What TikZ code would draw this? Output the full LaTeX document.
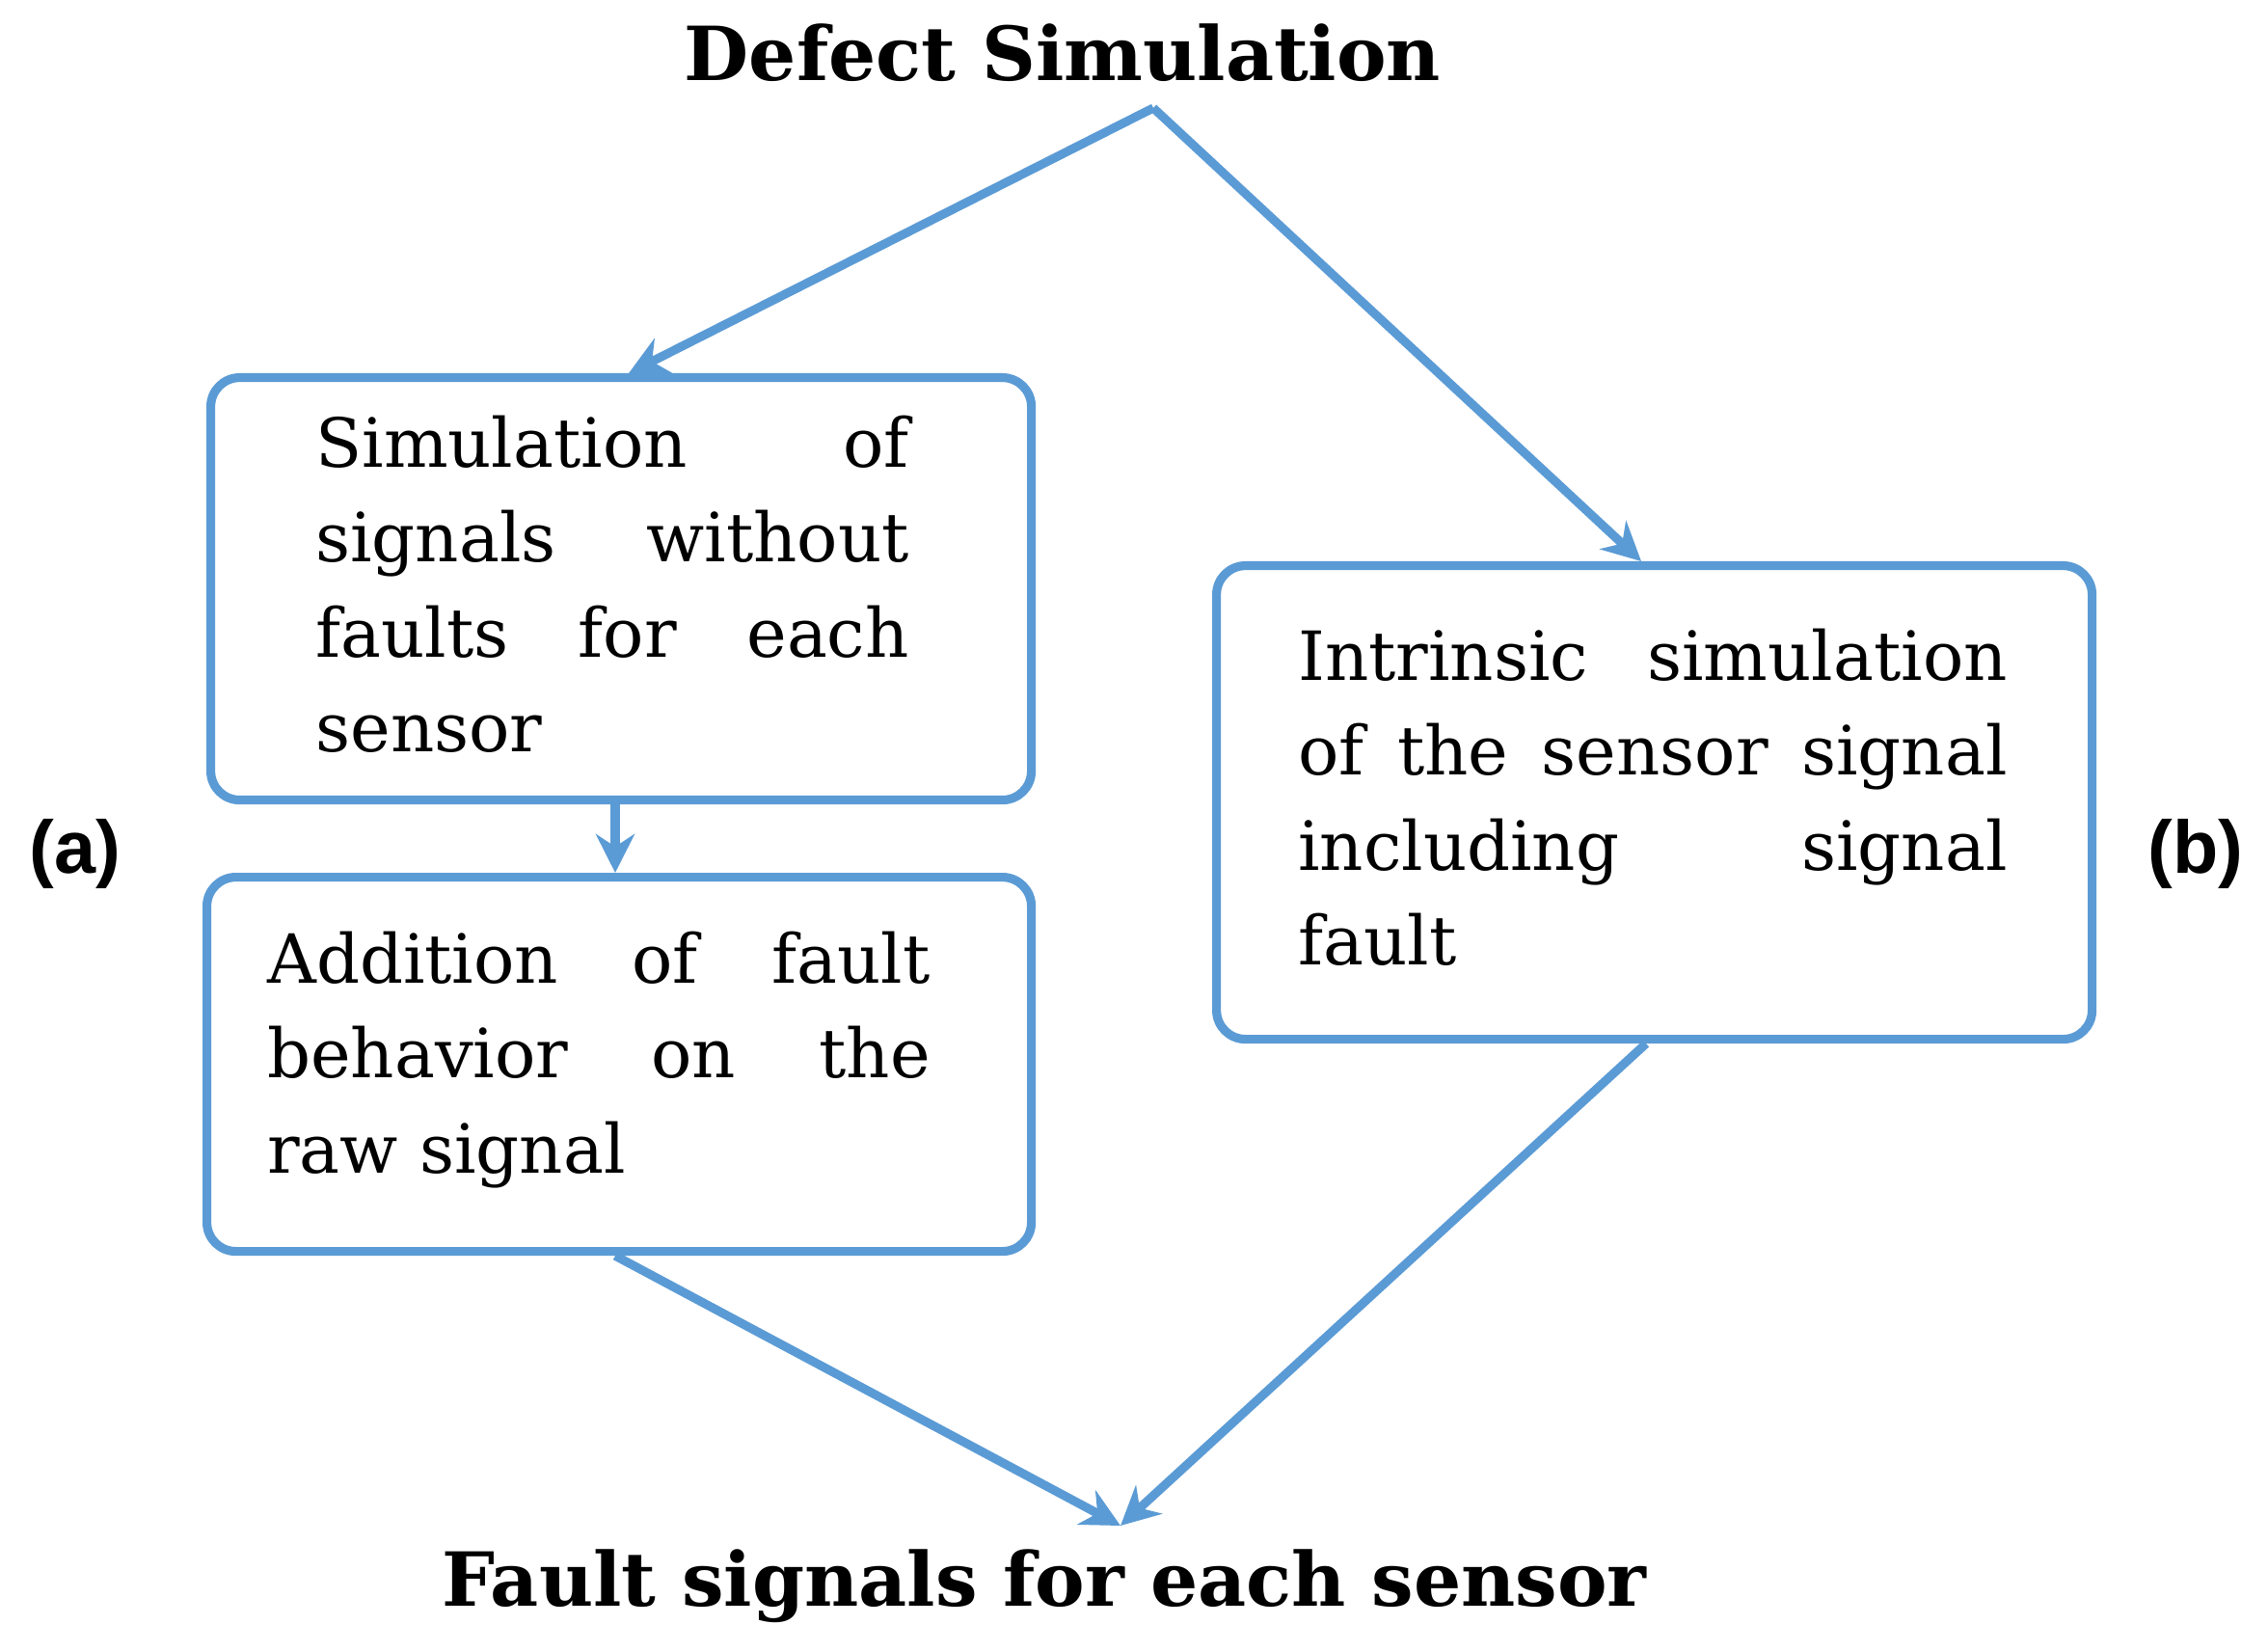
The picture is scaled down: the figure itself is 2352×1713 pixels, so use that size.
\documentclass[tikz,border=0pt]{standalone}
\usepackage{fontspec}
\setmainfont{DejaVu Serif}
\newfontfamily\lab{Liberation Sans}
\usetikzlibrary{arrows.meta}
\definecolor{bl}{HTML}{5B9BD5}
\begin{document}
\begin{tikzpicture}[x=0.01cm,y=-0.01cm,
 box/.style={draw=bl,line width=2.6pt,rounded corners=0.3cm,anchor=north west,inner sep=0pt},
 txt/.style={align=justify,font=\fontsize{20}{28}\selectfont,inner sep=0pt},
 arr/.style={draw=bl,line width=2.6pt,-{Stealth[length=0.4cm,width=0.4cm]}},
 ttl/.style={font=\fontsize{22}{26}\selectfont\bfseries}]
\useasboundingbox (0,0) rectangle (2352,1713);
\node[ttl] (top) at (1102,55) {Defect Simulation};
\coordinate (apex) at (1196,112);
\node[box,minimum width=851*0.01cm,minimum height=438*0.01cm] (b1) at (214,387) {};
\node[box,minimum width=855*0.01cm,minimum height=388*0.01cm] (b2) at (210,905) {};
\node[box,minimum width=908*0.01cm,minimum height=491*0.01cm] (b3) at (1257,582) {};
\node[txt,text width=6.15cm] (t1) at (635,606) {Simulation of\linebreak signals without\linebreak faults for each\linebreak sensor};
\node[txt,text width=6.87cm] (t2) at (621,1099) {Addition of fault\linebreak behavior on the\linebreak raw signal};
\node[txt,text width=7.35cm] (t3) at (1714,827) {Intrinsic simulation\linebreak of the sensor signal\linebreak including signal\linebreak fault};
\coordinate (bot) at (1162,1582);
\node[ttl] (fs) at (1083,1645) {Fault signals for each sensor};
\node[font=\lab\fontsize{22}{26}\selectfont\bfseries] (a) at (78,885) {(a)};
\node[font=\lab\fontsize{22}{26}\selectfont\bfseries] (b) at (2277,885) {(b)};
\draw[bl,line width=2.6pt,line join=round] (apex) -- (apex);
\draw[arr] (apex) -- (652,387);
\draw[arr] (apex) -- (1702,582);
\draw[arr] (b1.south -| 638,0) -- (b2.north -| 638,0);
\draw[arr] (b2.south -| 638,0) -- (bot);
\draw[arr] (b3.south -| 1707,0) -- (bot);
\end{tikzpicture}
\end{document}
